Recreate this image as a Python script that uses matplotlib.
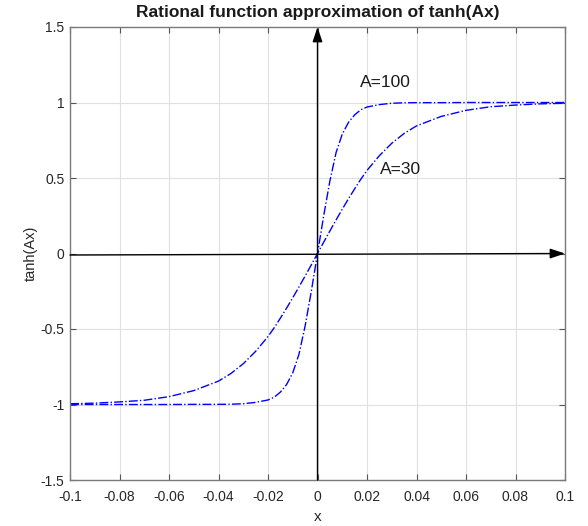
import matplotlib
matplotlib.use("Agg")
import matplotlib.pyplot as plt

plt.rcParams['font.family'] = ['Liberation Sans', 'DejaVu Sans']
plt.rcParams['axes.unicode_minus'] = False

# Sample positions (x) and values
x = [-0.1, -0.09, -0.08, -0.07, -0.06, -0.05, -0.04, -0.035, -0.03, -0.025,
     -0.02, -0.0175, -0.015, -0.0125, -0.01, -0.0075, -0.005, -0.0025, 0.0,
     0.0025, 0.005, 0.0075, 0.01, 0.0125, 0.015, 0.0175, 0.02, 0.025, 0.03,
     0.035, 0.04, 0.05, 0.06, 0.07, 0.08, 0.09, 0.1]

y_a100 = [-1.0, -1.0, -1.0, -1.0, -1.0, -0.999, -0.999, -0.998, -0.995, -0.986,
          -0.970, -0.952, -0.918, -0.868, -0.790, -0.668, -0.480, -0.250, 0.0,
          0.250, 0.480, 0.668, 0.790, 0.868, 0.918, 0.952, 0.970, 0.986, 0.995,
          0.998, 0.999, 0.999, 1.0, 1.0, 1.0, 1.0, 1.0]

y_a30 = [-0.995, -0.991, -0.983, -0.972, -0.948, -0.908, -0.845, -0.795, -0.730, -0.648,
         -0.550, -0.492, -0.428, -0.362, -0.293, -0.222, -0.149, -0.075, 0.0,
         0.075, 0.149, 0.222, 0.293, 0.362, 0.428, 0.492, 0.550, 0.648, 0.730,
         0.795, 0.845, 0.908, 0.948, 0.972, 0.983, 0.991, 0.995]

xticks = [-0.1, -0.08, -0.06, -0.04, -0.02, 0, 0.02, 0.04, 0.06, 0.08, 0.1]
xticklabels = ['-0.1', '-0.08', '-0.06', '-0.04', '-0.02', '0', '0.02', '0.04', '0.06', '0.08', '0.1']
yticks = [-1.5, -1, -0.5, 0, 0.5, 1, 1.5]
yticklabels = ['-1.5', '-1', '-0.5', '0', '0.5', '1', '1.5']

fig = plt.figure(figsize=(5.88, 5.26), dpi=100)
ax = fig.add_axes([70/588, 1-480/526, (565-70)/588, (480-27)/526])

ax.plot(x, y_a100, color=(0, 0, 1), linestyle='-.', linewidth=1.0)
ax.plot(x, y_a30, color=(0, 0, 1), linestyle='-.', linewidth=1.0)

ax.set_xlim(-0.1, 0.1)
ax.set_ylim(-1.5, 1.5)
ax.set_xticks(xticks)
ax.set_xticklabels(xticklabels)
ax.set_yticks(yticks)
ax.set_yticklabels(yticklabels)
ax.grid(True, color='#e0e0e0', linewidth=0.8)
ax.set_axisbelow(True)
ax.tick_params(direction='in', length=4, color='#555555', labelcolor='#262626',
               labelsize=10, top=True, right=True, width=0.8)
ax.tick_params(axis='x', pad=7.5)
ax.tick_params(axis='y', pad=4)
for s in ax.spines.values():
    s.set_color('#7a7a7a')
    s.set_linewidth(1.0)

# axis arrows
arrow = dict(arrowstyle='-|>,head_length=0.9,head_width=0.3', color='black',
             lw=1.0, shrinkA=0, shrinkB=0)
ax.annotate('', xy=(0.1, 0.0), xytext=(-0.1, -0.01), arrowprops=arrow,
            annotation_clip=False)
ax.annotate('', xy=(0.0, 1.5), xytext=(0.0, -1.5), arrowprops=arrow,
            annotation_clip=False)

ax.text(0.0172, 1.135, 'A=100', fontsize=12.5, color='#1a1a1a', va='center', ha='left')
ax.text(0.0252, 0.555, 'A=30', fontsize=12.5, color='#1a1a1a', va='center', ha='left')

ax.set_title('Rational function approximation of tanh(Ax)', fontsize=12.5,
             fontweight='bold', pad=7, color='#1a1a1a')
ax.set_xlabel('x', fontsize=11, color='#262626', labelpad=4)
ax.set_ylabel('tanh(Ax)', fontsize=10.5, color='#262626', labelpad=2)

fig.savefig('out.png', dpi=100)
